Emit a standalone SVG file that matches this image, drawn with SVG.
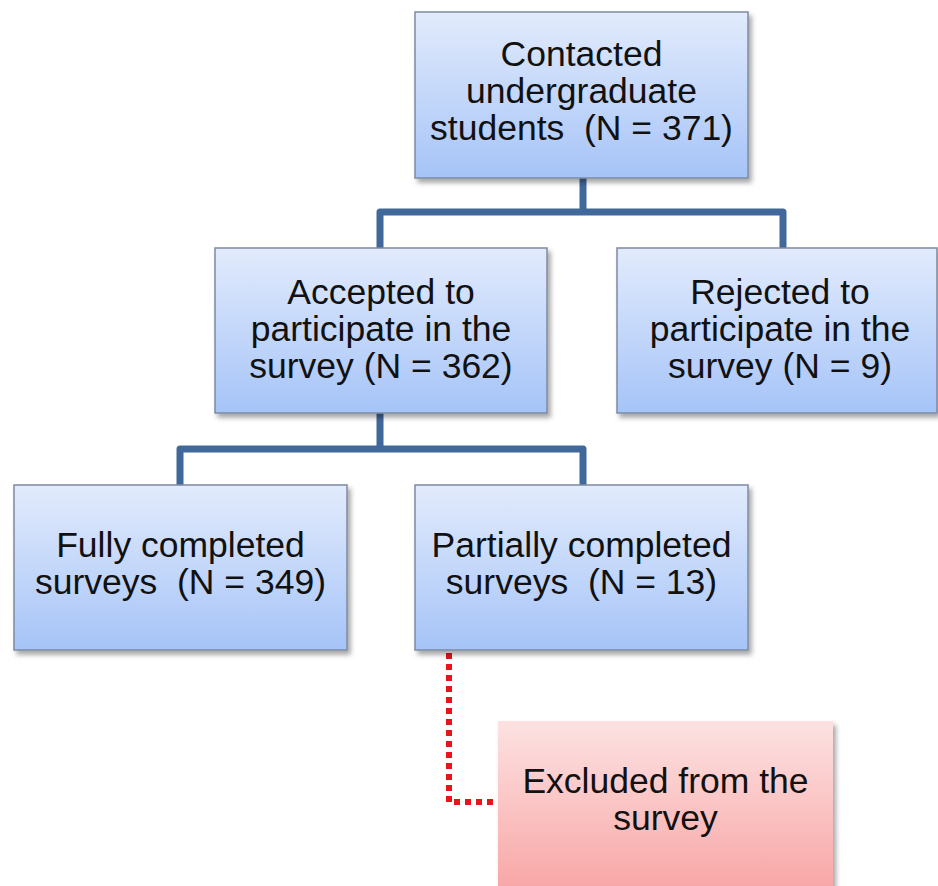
<svg xmlns="http://www.w3.org/2000/svg" width="938" height="886" viewBox="0 0 938 886">
<style>
.box{fill:url(#blue);stroke:#7d8aa0;stroke-width:1.5;filter:url(#sh)}
.red{fill:url(#pink);stroke:none;filter:url(#sh)}
.t{font-family:"Liberation Sans",Arial,sans-serif;font-size:35.5px;fill:#111;text-anchor:middle;white-space:pre}
.c{fill:none;stroke:#41689a;stroke-width:7;stroke-linejoin:round}
.d{fill:none;stroke:#e8141c;stroke-width:6;stroke-dasharray:6 5}
</style>
<defs>
<linearGradient id="blue" x1="0" y1="0" x2="0" y2="1">
<stop offset="0" stop-color="#e2ebfc"/>
<stop offset="1" stop-color="#a6c4f8"/>
</linearGradient>
<linearGradient id="pink" x1="0" y1="0" x2="0" y2="1">
<stop offset="0" stop-color="#fde2e2"/>
<stop offset="1" stop-color="#f8a4a4"/>
</linearGradient>
<filter id="sh" x="-10%" y="-10%" width="120%" height="130%">
<feDropShadow dx="3" dy="4" stdDeviation="2.5" flood-color="#000" flood-opacity="0.35"/>
</filter>
</defs>
<g id="connectors">
<path class="c" d="M583 178 V212 M380 248 V212 H783 V248"/>
<path class="c" d="M380 413 V449 M180 485 V449 H583 V485"/>
<path class="d" d="M449 653 V802 H498"/>
</g>
<g id="contacted">
<rect class="box" x="415" y="12" width="333" height="166"/>
<text class="t" x="581.5" y="66">Contacted</text>
<text class="t" x="581.5" y="103">undergraduate</text>
<text class="t" x="581.5" y="140" xml:space="preserve">students  (N = 371)</text>
</g>
<g id="accepted">
<rect class="box" x="215" y="248" width="332" height="165"/>
<text class="t" x="381" y="304">Accepted to</text>
<text class="t" x="381" y="341">participate in the</text>
<text class="t" x="381" y="378">survey (N = 362)</text>
</g>
<g id="rejected">
<rect class="box" x="617" y="248" width="320" height="165"/>
<text class="t" x="780" y="304">Rejected to</text>
<text class="t" x="780" y="341">participate in the</text>
<text class="t" x="780" y="378">survey (N = 9)</text>
</g>
<g id="fully">
<rect class="box" x="14" y="485" width="333" height="165"/>
<text class="t" x="180.5" y="557">Fully completed</text>
<text class="t" x="180.5" y="594" xml:space="preserve">surveys  (N = 349)</text>
</g>
<g id="partially">
<rect class="box" x="415" y="485" width="333" height="165"/>
<text class="t" x="581.5" y="557">Partially completed</text>
<text class="t" x="581.5" y="594" xml:space="preserve">surveys  (N = 13)</text>
</g>
<g id="excluded">
<rect class="red" x="498" y="721" width="335" height="175"/>
<text class="t" x="665.5" y="793">Excluded from the</text>
<text class="t" x="665.5" y="830">survey</text>
</g>
</svg>
